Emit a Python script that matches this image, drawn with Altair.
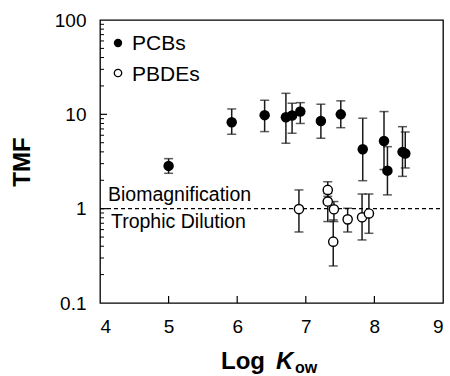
import altair as alt
import pandas as pd

# ---- data ----
pcb_logkow = [5.00, 5.92, 6.40, 6.71, 6.80, 6.92, 7.22, 7.51, 7.83, 8.14, 8.19, 8.41, 8.45]
pcb_tmf    = [2.84, 8.24, 9.80, 9.30, 9.70, 10.7, 8.50, 10.0, 4.26, 5.22, 2.53, 4.00, 3.85]
pcb_lo     = [2.37, 6.15, 6.56, 4.94, 6.30, 8.00, 5.58, 7.22, 1.98, 2.60, 1.40, 2.20, 2.70]
pcb_hi     = [3.39, 11.4, 14.1, 16.7, 13.1, 13.3, 12.8, 13.9, 9.10, 10.7, 4.54, 7.40, 6.50]

pbde_logkow = [6.90, 7.32, 7.32, 7.41, 7.40, 7.61, 7.82, 7.92]
pbde_tmf    = [0.99, 1.58, 1.19, 0.985, 0.447, 0.77, 0.81, 0.89]
pbde_lo     = [0.566, 1.35, 0.73, 0.73, 0.247, 0.566, 0.466, 0.548]
pbde_hi     = [1.58, 1.93, 1.45, 1.19, 0.76, 1.01, 1.43, 1.43]

x_ticks = [4, 5, 6, 7, 8, 9]
y_ticks = [0.1, 1, 10, 100]
x_inner_ticks = [5, 6, 7, 8]
y_major_inner = [1, 10]
y_minor_inner = [m * d for d in (0.1, 1, 10) for m in (2, 3, 4, 5, 6, 7, 8, 9)]

FONT = "Liberation Sans"
W, H = 343, 283

pcb = pd.DataFrame({"x": pcb_logkow, "y": pcb_tmf, "lo": pcb_lo, "hi": pcb_hi, "g": "PCBs"})
pbde = pd.DataFrame({"x": pbde_logkow, "y": pbde_tmf, "lo": pbde_lo, "hi": pbde_hi, "g": "PBDEs"})
both = pd.concat([pcb, pbde], ignore_index=True)

xs = alt.Scale(domain=[4, 9], nice=False, zero=False)
ys = alt.Scale(type="log", domain=[0.1, 100], nice=False)


def xaxis():
    return alt.Axis(values=x_ticks, format="d", title=None, ticks=False, domain=False, grid=False,
                    labelFont=FONT, labelFontSize=19, labelColor="black", labelPadding=14)


def yaxis():
    return alt.Axis(values=y_ticks, format="~g", title=None, ticks=False, domain=False, grid=False,
                    labelFont=FONT, labelFontSize=19, labelColor="black", labelPadding=14)


def X(f="x"):
    return alt.X(f"{f}:Q", scale=xs, axis=xaxis())


def Y(f="y"):
    return alt.Y(f"{f}:Q", scale=ys, axis=yaxis())


base = alt.Chart(both)
bars = base.mark_rule(color="#1a1a1a", strokeWidth=1.5).encode(x=X(), y=Y("lo"), y2="hi:Q")
cap_lo = base.mark_tick(orient="horizontal", size=9, thickness=1.5, color="#1a1a1a").encode(
    x=X(), y=Y("lo"))
cap_hi = base.mark_tick(orient="horizontal", size=9, thickness=1.5, color="#1a1a1a").encode(
    x=X(), y=Y("hi"))

pts_pcb = alt.Chart(pcb).mark_point(shape="circle", filled=True, size=110, color="black", opacity=1).encode(
    x=X(), y=Y())
pts_pbde = alt.Chart(pbde).mark_point(shape="circle", filled=True, size=85, fill="white", stroke="black",
                                      strokeWidth=1.4, opacity=1).encode(x=X(), y=Y())

one = pd.DataFrame({"y": [1]})
dash = alt.Chart(one).mark_rule(color="black", strokeWidth=1.2, strokeDash=[4, 3]).encode(
    y=Y(), x=alt.value(0), x2=alt.value(W))

# inward ticks
xt = alt.Chart(pd.DataFrame({"x": x_inner_ticks})).mark_rule(color="black", strokeWidth=1.2).encode(
    x=X(), y=alt.value(H), y2=alt.value(H - 7))
ytM = alt.Chart(pd.DataFrame({"y": y_major_inner})).mark_rule(color="black", strokeWidth=1.2).encode(
    y=Y(), x=alt.value(0), x2=alt.value(7))
ytm = alt.Chart(pd.DataFrame({"y": y_minor_inner})).mark_rule(color="black", strokeWidth=1).encode(
    y=Y(), x=alt.value(0), x2=alt.value(4))

dummy = pd.DataFrame({"a": [0]})


def txt(s, x, y, size, **kw):
    return alt.Chart(dummy).mark_text(font=FONT, fontSize=size, color="black", align="left",
                                      baseline="alphabetic", **kw).encode(
        x=alt.value(x), y=alt.value(y), text=alt.value(s))


ann_bio = txt("Biomagnification", 8, 181, 19.5)
ann_tro = txt("Trophic Dilution", 11, 208, 19.5)
leg_t1 = txt("PCBs", 32, 30, 21)
leg_t2 = txt("PBDEs", 32, 61, 21)
leg_p1 = alt.Chart(dummy).mark_point(shape="circle", filled=True, size=70, color="black", opacity=1).encode(
    x=alt.value(18), y=alt.value(23))
leg_p2 = alt.Chart(dummy).mark_point(shape="circle", filled=True, size=55, fill="white", stroke="black",
                                     strokeWidth=1.3, opacity=1).encode(x=alt.value(18), y=alt.value(53))

ttl_y = alt.Chart(dummy).mark_text(font=FONT, fontSize=24, fontWeight="bold", color="black", angle=270,
                                   align="center", baseline="middle").encode(
    x=alt.value(-77), y=alt.value(142), text=alt.value("TMF"))
ttl_x1 = txt("Log", 121, 349, 24, fontWeight="bold")
ttl_x2 = txt("K", 176, 349, 24, fontWeight="bold", fontStyle="italic")
ttl_x3 = txt("ow", 195, 353, 16, fontWeight="bold")

chart = alt.layer(
    bars, cap_lo, cap_hi, dash, pts_pcb, pts_pbde, xt, ytM, ytm,
    ann_bio, ann_tro, leg_p1, leg_p2, leg_t1, leg_t2, ttl_y, ttl_x1, ttl_x2, ttl_x3
).properties(
    width=W, height=H,
    autosize=alt.AutoSizeParams(type="none"),
    padding={"left": 100, "top": 20, "right": 7, "bottom": 73},
    background="white",
).configure_view(stroke="black", strokeWidth=1.3)

chart.save("out.html", embed_options={"renderer": "svg", "actions": False})
